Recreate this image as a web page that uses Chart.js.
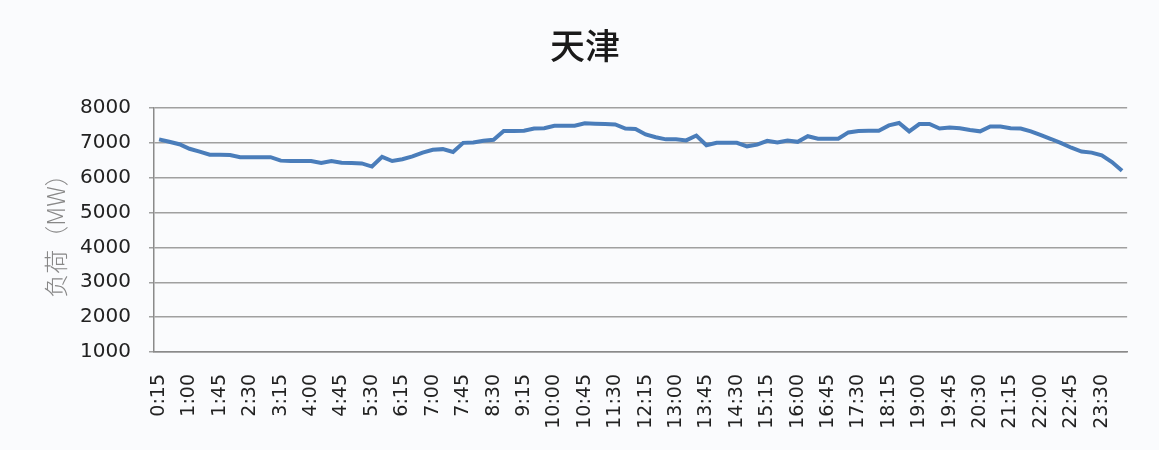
<!DOCTYPE html>
<html>
<head>
<meta charset="utf-8">
<script src="https://cdn.jsdelivr.net/npm/chart.js@4"></script>
<style>
  html, body { margin: 0; padding: 0; background: #fafbfd; }
  #wrap { width: 1159px; height: 450px; }
</style>
</head>
<body>
<div id="wrap"><canvas id="chart" width="1159" height="450"></canvas></div>
<script>
// 时间点 0:15 ... 24:00，每15分钟一个
const times = [];
for (let m = 15; m <= 24 * 60; m += 15) {
  times.push(Math.floor(m / 60) + ":" + String(m % 60).padStart(2, "0"));
}

// 天津负荷 (MW)
const loadMW = [
  7100, 7030, 6960, 6830, 6750, 6660, 6660, 6650, 6590, 6590, 6590, 6590,
  6490, 6480, 6480, 6480, 6420, 6480, 6430, 6420, 6410, 6320, 6600, 6480,
  6530, 6610, 6720, 6800, 6820, 6740, 7000, 7010, 7060, 7090, 7340, 7340,
  7350, 7410, 7420, 7490, 7490, 7490, 7560, 7550, 7540, 7530, 7410, 7400,
  7240, 7160, 7100, 7100, 7070, 7210, 6930, 7000, 7000, 7000, 6900, 6950,
  7060, 7010, 7070, 7030, 7190, 7120, 7120, 7120, 7300, 7340, 7350, 7350,
  7500, 7570, 7330, 7540, 7540, 7410, 7440, 7420, 7370, 7330, 7470, 7470,
  7420, 7410, 7330, 7220, 7110, 6990, 6860, 6750, 6720, 6640, 6450, 6200
];

const yTicks = [1000, 2000, 3000, 4000, 5000, 6000, 7000, 8000];

const bgPlugin = {
  id: 'bg',
  beforeDraw(chart) {
    const c = chart.ctx;
    c.save();
    c.fillStyle = '#fafbfd';
    c.fillRect(0, 0, chart.width, chart.height);
    c.restore();
  }
};

const ctx = document.getElementById("chart").getContext("2d");
const chart = new Chart(ctx, {
  type: 'line',
  data: {
    labels: times,
    datasets: [{
      label: '天津',
      data: loadMW,
      borderColor: '#4a7dba',
      borderWidth: 4,
      pointRadius: 0,
      tension: 0,
      fill: false
    }]
  },
  options: {
    responsive: false,
    animation: false,
    layout: { padding: { left: 38, right: 27, top: 0, bottom: 0 } },
    plugins: {
      legend: { display: false },
      tooltip: { enabled: false },
      title: {
        display: true,
        text: '天津',
        color: '#1a1a1a',
        font: { family: '"Noto Sans CJK SC"', size: 35, weight: 500 },
        padding: { top: 25, bottom: 41 }
      }
    },
    scales: {
      x: {
        offset: true,
        grid: { display: false },
        border: { display: true, color: '#8a8a8a', width: 1.5 },
        ticks: {
          autoSkip: false,
          minRotation: 90,
          maxRotation: 90,
          padding: 14,
          color: '#222',
          font: { family: '"DejaVu Sans"', size: 19 },
          callback: (v, i) => (i % 3 === 0 ? times[i] : '')
        },
        afterFit: (s) => { s.height = 98; }
      },
      y: {
        min: 1000,
        max: 8000,
        afterBuildTicks: (s) => { s.ticks = yTicks.map(v => ({ value: v })); },
        grid: { color: '#a0a0a0', lineWidth: 1.5, tickLength: 5 },
        border: { display: true, color: '#8a8a8a', width: 1.5 },
        ticks: {
          padding: 18,
          color: '#222',
          font: { family: '"DejaVu Sans"', size: 20 },
          callback: (v) => String(v)
        },
        title: {
          display: true,
          text: '负荷（MW）',
          color: '#888',
          font: { family: '"Noto Sans CJK SC"', size: 24, weight: 300 },
          padding: { top: 3, bottom: 0 }
        },
        afterFit: (s) => { s.width = 116; }
      }
    }
  },
  plugins: [bgPlugin]
});
</script>
</body>
</html>
